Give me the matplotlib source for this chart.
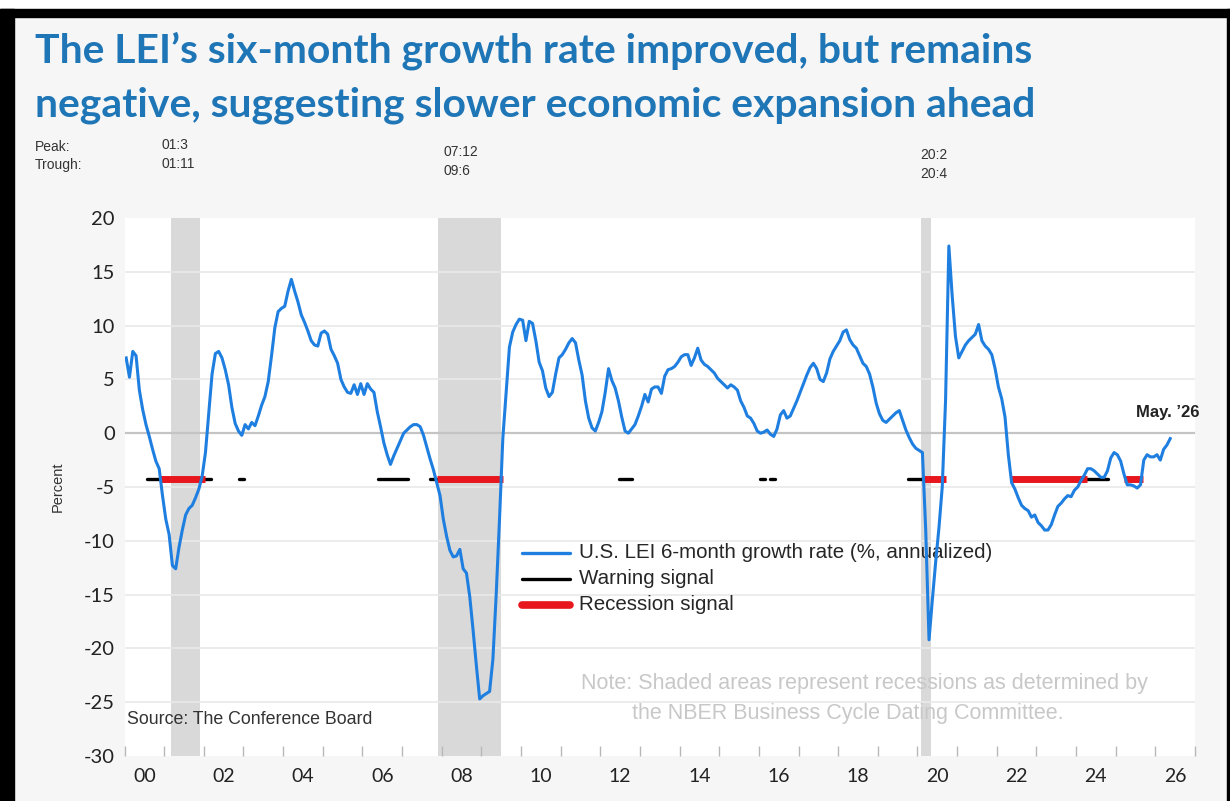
import numpy as np
import matplotlib.pyplot as plt
import pandas as pd
from matplotlib.patches import Rectangle

W, H = 1230, 801

# U.S. LEI six-month growth rate (%, annualized), monthly Jan 2000 .. May 2026
lei_growth = [
    7.0, 5.2, 7.6, 7.2, 4.0, 2.2, 0.8, -0.3, -1.5, -2.6, -3.3, -5.8,          # 2000
    -8.0, -9.4, -12.3, -12.6, -10.6, -9.0, -7.6, -7.0, -6.7, -6.0, -5.2, -4.0,  # 2001
    -1.8, 1.8, 5.5, 7.4, 7.6, 7.0, 5.9, 4.5, 2.4, 0.9, 0.2, -0.2,             # 2002
    0.8, 0.4, 1.0, 0.7, 1.6, 2.6, 3.4, 4.8, 7.2, 9.8, 11.3, 11.6,             # 2003
    11.8, 13.2, 14.3, 13.2, 12.2, 11.0, 10.3, 9.5, 8.6, 8.2, 8.1, 9.3,        # 2004
    9.5, 9.2, 7.8, 7.2, 6.5, 5.0, 4.3, 3.8, 3.7, 4.5, 3.6, 4.6,               # 2005
    3.6, 4.6, 4.1, 3.8, 2.0, 0.6, -0.9, -2.0, -2.9, -2.1, -1.4, -0.7,         # 2006
    0.0, 0.3, 0.6, 0.8, 0.8, 0.6, -0.2, -1.3, -2.4, -3.4, -4.6, -5.8,         # 2007
    -8.0, -9.6, -10.9, -11.5, -11.4, -10.8, -12.6, -13.0, -15.2, -18.3, -21.6, -24.7,  # 2008
    -24.4, -24.2, -24.0, -21.0, -15.0, -8.0, -0.5, 3.8, 8.0, 9.4, 10.1, 10.6,  # 2009
    10.5, 8.6, 10.4, 10.2, 8.6, 6.6, 5.8, 4.2, 3.4, 3.8, 5.5, 7.0,            # 2010
    7.3, 7.8, 8.4, 8.8, 8.4, 6.8, 5.4, 3.0, 1.4, 0.5, 0.2, 1.0,               # 2011
    2.0, 3.8, 6.0, 4.9, 4.2, 3.0, 1.5, 0.2, 0.0, 0.4, 0.8, 1.6,               # 2012
    2.5, 3.6, 2.9, 4.1, 4.3, 4.3, 3.7, 5.3, 5.9, 6.0, 6.2, 6.6,               # 2013
    7.1, 7.3, 7.3, 6.3, 7.0, 7.9, 6.8, 6.4, 6.2, 5.9, 5.6, 5.1,               # 2014
    4.8, 4.5, 4.2, 4.5, 4.3, 4.0, 3.0, 2.4, 1.6, 1.4, 0.9, 0.2,               # 2015
    0.0, 0.1, 0.3, -0.1, -0.3, 0.4, 1.7, 2.1, 1.4, 1.6, 2.3, 3.0,             # 2016
    3.8, 4.6, 5.4, 6.1, 6.5, 6.0, 5.0, 4.8, 5.6, 6.9, 7.6, 8.1,               # 2017
    8.6, 9.4, 9.6, 8.7, 8.2, 7.9, 7.2, 6.5, 6.2, 5.5, 4.3, 2.8,               # 2018
    1.8, 1.2, 1.0, 1.3, 1.6, 1.9, 2.1, 1.2, 0.3, -0.4, -1.0, -1.4,            # 2019
    -1.6, -1.8, -9.0, -19.2, -15.5, -12.0, -8.8, -5.0, 3.0, 17.4, 12.8, 9.0,  # 2020
    7.0, 7.6, 8.2, 8.6, 8.9, 9.2, 10.1, 8.6, 8.1, 7.8, 7.3, 6.0,              # 2021
    4.3, 3.2, 1.5, -2.0, -4.6, -5.2, -6.0, -6.7, -7.0, -7.2, -7.8, -7.6,      # 2022
    -8.3, -8.6, -9.0, -9.0, -8.5, -7.6, -6.8, -6.5, -6.1, -5.8, -5.9, -5.3,   # 2023
    -5.0, -4.4, -3.9, -3.3, -3.3, -3.5, -3.8, -4.1, -4.1, -3.5, -2.3, -1.8,   # 2024
    -2.0, -2.6, -3.8, -4.8, -4.8, -4.9, -5.1, -4.8, -2.5, -2.0, -2.2, -2.2,   # 2025
    -2.0, -2.5, -1.5, -1.1, -0.5,                                             # 2026
]

# NBER peaks / troughs (yy:m)
peaks = ['01:3', '07:12', '20:2']
troughs = ['01:11', '09:6', '20:4']

# signal periods in decimal years
warning_signal = [(2000.57, 2002.18), (2002.88, 2003.01), (2006.40, 2007.16),
                  (2007.70, 2007.87), (2012.48, 2012.79), (2016.03, 2016.16),
                  (2016.28, 2016.41), (2019.77, 2020.15), (2024.27, 2024.81)]
recession_signal = [(2000.90, 2002.03), (2007.87, 2009.54), (2020.15, 2020.71),
                    (2022.33, 2024.27), (2025.21, 2025.69)]
signal_level = -4.25

x_labels = ['00', '02', '04', '06', '08', '10', '12', '14', '16', '18', '20', '22', '24', '26']
y_ticks = [20, 15, 10, 5, 0, -5, -10, -15, -20, -25, -30]

months = pd.date_range('2000-01-01', periods=len(lei_growth), freq='MS')
t = np.asarray(months.year + (months.month - 0.5) / 12)


def to_year(s):
    yy, m = s.split(':')
    return 2000 + int(yy) + (int(m) - 1) / 12


# plot area in pixels
L, R, T, B = 124.5, 1195, 218, 756

fig = plt.figure(figsize=(W / 100, H / 100), dpi=100)
fig.patch.set_facecolor('white')


def fx(x):
    return x / W


def fy(y):
    return 1 - y / H


# grey frame background and black border
fig.patches.append(Rectangle((0, 0), 1, fy(9), transform=fig.transFigure, color='#f6f6f6', zorder=-10))
fig.patches.append(Rectangle((0, fy(17)), 1, fy(9) - fy(17), transform=fig.transFigure, color='black', zorder=-9))
fig.patches.append(Rectangle((0, 0), fx(14), fy(9), transform=fig.transFigure, color='black', zorder=-9))
fig.patches.append(Rectangle((fx(1227), 0), fx(3), fy(9), transform=fig.transFigure, color='black', zorder=-9))

ax = fig.add_axes([fx(L), fy(B), fx(R) - fx(L), fy(T) - fy(B)])
ax.set_facecolor('white')
ax.set_xlim(2000, 2027)
ax.set_ylim(-30, 20)
for s in ax.spines.values():
    s.set_visible(False)

for v in y_ticks:
    if v in (20, -30):
        continue
    if v == 0:
        ax.axhline(v, color='#c4c4c4', lw=1.6, zorder=1)
    else:
        ax.axhline(v, color='#e9e9e9', lw=1.2, zorder=1)

for p, tr in zip(peaks, troughs):
    ax.axvspan(to_year(p), to_year(tr) + 1 / 12, color='#d9d9d9', lw=0, zorder=0.5)

for a, b in warning_signal:
    ax.plot([a, b], [signal_level, signal_level], color='black', lw=2.4, solid_capstyle='round', zorder=3)
for a, b in recession_signal:
    ax.plot([a, b], [signal_level, signal_level], color='#e8161d', lw=5, solid_capstyle='butt', zorder=4)

ax.plot(t, lei_growth, color='#1f7fe0', lw=2.2, zorder=6)

ax.set_yticks(y_ticks)
ax.set_yticklabels([str(v) for v in y_ticks], fontsize=14.5, family='Lato', color='#222222')
ax.tick_params(axis='y', length=0, pad=7)
ax.set_xticks(np.arange(2000, 2028))
ax.set_xticklabels([])
ax.tick_params(axis='x', which='major', direction='in', length=7, width=1, color='#b8b8b8')
ax.set_xticks(np.arange(2000.5, 2027, 2), minor=True)
ax.set_xticklabels(x_labels, minor=True, fontsize=14, family='Lato', color='#222222')
ax.tick_params(axis='x', which='minor', length=0, pad=9)


def ap(x, y):
    return ((x - L) / (R - L), (B - y) / (B - T))


# legend drawn under the series line
leg_items = [('U.S. LEI 6-month growth rate (%, annualized)', '#1f7fe0', 2.4, 553),
             ('Warning signal', 'black', 2.4, 579),
             ('Recession signal', '#e8161d', 5.5, 605)]
for label, c, w, y in leg_items:
    x0, y0 = ap(522, y)
    x1, _ = ap(570, y)
    ax.plot([x0, x1], [y0, y0], transform=ax.transAxes, color=c, lw=w,
            solid_capstyle='round', clip_on=False, zorder=2)
    ax.text(*ap(579, y), label, transform=ax.transAxes, fontsize=14.8, family='Liberation Sans',
            color='#262626', va='center', ha='left', zorder=2)

note_kw = dict(transform=ax.transAxes, fontsize=15.5, family='Liberation Sans', color='#c8c8c8',
               ha='center', va='center', zorder=2)
ax.text(*ap(864, 684), 'Note: Shaded areas represent recessions as determined by', **note_kw)
ax.text(*ap(848, 713), 'the NBER Business Cycle Dating Committee.', **note_kw)
ax.text(*ap(127, 719), 'Source: The Conference Board', transform=ax.transAxes,
        fontsize=12.8, family='Liberation Sans', color='#333333', ha='left', va='center', zorder=2)
ax.text(*ap(1200, 412), 'May. \u201926', transform=ax.transAxes, fontsize=12,
        family='Liberation Sans', weight='bold', color='#222222', ha='right', va='center',
        clip_on=False, zorder=7)

ax.set_ylabel('Percent', fontsize=10.5, family='Liberation Sans', color='#333333', labelpad=14)

# title
title_kw = dict(fontsize=29.4, family='Lato', weight='bold', color='#1f76b6', ha='left', va='baseline')
fig.text(fx(35), fy(63), 'The LEI\u2019s six-month growth rate improved, but remains', **title_kw)
fig.text(fx(35), fy(116), 'negative, suggesting slower economic expansion ahead', **title_kw)

# peak / trough dates above the shaded bars
lab_kw = dict(fontsize=10, family='Liberation Sans', color='#333333', ha='left', va='center')
fig.text(fx(35), fy(147), 'Peak:', **lab_kw)
fig.text(fx(35), fy(165), 'Trough:', **lab_kw)
for p, tr, x, y in zip(peaks, troughs, [161, 443, 920], [145, 152, 155]):
    fig.text(fx(x), fy(y), p, **lab_kw)
    fig.text(fx(x), fy(y + 19), tr, **lab_kw)

fig.savefig('out.png', dpi=100)
